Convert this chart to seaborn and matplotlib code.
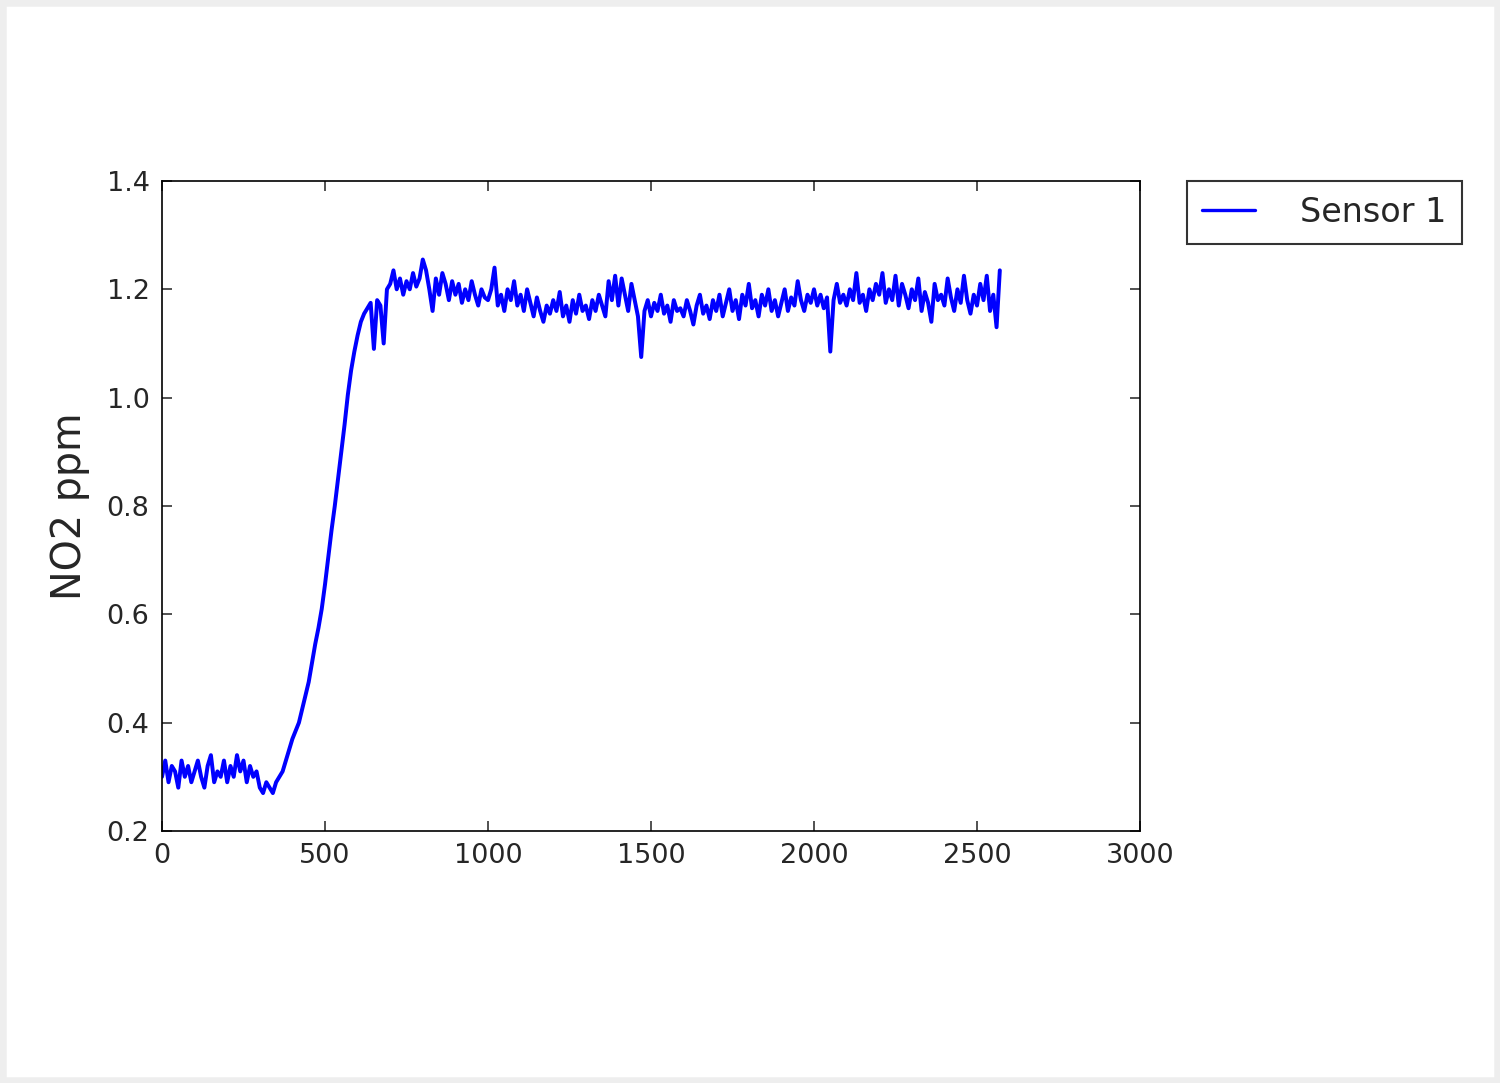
import pandas as pd
import numpy as np
import matplotlib.pyplot as plt
from matplotlib.patches import Rectangle
import seaborn as sns

# sample index every 10 readings, NO2
sample_step = 10
no2_ppm = [
    0.30, 0.33, 0.29, 0.32, 0.31, 0.28, 0.33, 0.30, 0.32, 0.29,
    0.31, 0.33, 0.30, 0.28, 0.32, 0.34, 0.29, 0.31, 0.30, 0.33,
    0.29, 0.32, 0.30, 0.34, 0.31, 0.33, 0.29, 0.32, 0.30, 0.31,
    0.28, 0.27, 0.29, 0.28, 0.27, 0.29, 0.30, 0.31, 0.33, 0.35,
    0.37, 0.385, 0.40, 0.425, 0.45, 0.475, 0.51, 0.545, 0.575, 0.61,
    0.655, 0.705, 0.755, 0.80, 0.85, 0.90, 0.95, 1.005, 1.05, 1.085,
    1.115, 1.14, 1.155, 1.165, 1.175, 1.09, 1.18, 1.17, 1.10, 1.20,
    1.21, 1.235, 1.20, 1.22, 1.19, 1.215, 1.20, 1.23, 1.205, 1.22,
    1.255, 1.235, 1.20, 1.16, 1.22, 1.19, 1.23, 1.21, 1.18, 1.215,
    1.19, 1.21, 1.175, 1.20, 1.18, 1.215, 1.19, 1.17, 1.20, 1.185,
    1.18, 1.20, 1.24, 1.17, 1.19, 1.16, 1.20, 1.18, 1.215, 1.17,
    1.19, 1.16, 1.20, 1.175, 1.15, 1.185, 1.16, 1.14, 1.17, 1.155,
    1.18, 1.16, 1.195, 1.15, 1.17, 1.14, 1.18, 1.155, 1.19, 1.16,
    1.17, 1.145, 1.18, 1.16, 1.19, 1.17, 1.15, 1.215, 1.18, 1.225,
    1.17, 1.22, 1.19, 1.16, 1.21, 1.18, 1.15, 1.075, 1.16, 1.18,
    1.15, 1.175, 1.16, 1.19, 1.155, 1.17, 1.14, 1.18, 1.16, 1.165,
    1.15, 1.18, 1.16, 1.135, 1.17, 1.19, 1.155, 1.17, 1.145, 1.18,
    1.16, 1.19, 1.15, 1.175, 1.20, 1.16, 1.18, 1.145, 1.19, 1.17,
    1.21, 1.165, 1.18, 1.15, 1.19, 1.17, 1.20, 1.16, 1.18, 1.15,
    1.175, 1.20, 1.16, 1.185, 1.17, 1.215, 1.18, 1.16, 1.19, 1.175,
    1.20, 1.17, 1.19, 1.165, 1.185, 1.085, 1.18, 1.21, 1.175, 1.19,
    1.17, 1.20, 1.18, 1.23, 1.175, 1.19, 1.16, 1.20, 1.18, 1.21,
    1.19, 1.23, 1.175, 1.20, 1.18, 1.225, 1.17, 1.21, 1.19, 1.165,
    1.20, 1.18, 1.22, 1.16, 1.195, 1.175, 1.14, 1.21, 1.18, 1.19,
    1.17, 1.22, 1.185, 1.16, 1.20, 1.175, 1.225, 1.18, 1.155, 1.19,
    1.17, 1.21, 1.18, 1.225, 1.16, 1.19, 1.13, 1.235,
]
series_label = 'Sensor 1'
y_label = 'NO2 ppm'

df = pd.DataFrame({'sample': np.arange(len(no2_ppm)) * sample_step,
                   'no2': no2_ppm})

sns.set_style('white', rc={'xtick.direction': 'in', 'ytick.direction': 'in',
                           'xtick.top': True, 'ytick.right': True,
                           'xtick.bottom': True, 'ytick.left': True,
                           'axes.edgecolor': 'black', 'axes.linewidth': 1.0})
plt.rcParams['font.family'] = ['DejaVu Sans']

fig = plt.figure(figsize=(10, 7.22), dpi=150)
ax = fig.add_axes([0.108, 0.2327, 0.652, 0.6002])

sns.lineplot(data=df, x='sample', y='no2', color='#0000ff', linewidth=1.9,
             label=series_label, ax=ax)

ax.set_xlim(0, 3000)
ax.set_ylim(0.2, 1.4)
ax.set_xticks([0, 500, 1000, 1500, 2000, 2500, 3000])
ax.set_yticks([0.2, 0.4, 0.6, 0.8, 1.0, 1.2, 1.4])
ax.set_yticklabels(['0.2', '0.4', '0.6', '0.8', '1.0', '1.2', '1.4'])
ax.tick_params(axis='both', labelsize=13, length=5, width=0.8, color='#333333',
               pad=6)
ax.set_xlabel('')
ax.set_ylabel(y_label, fontsize=19, labelpad=8)

leg = ax.legend(loc='upper left', bbox_to_anchor=(1.048, 1.0), borderaxespad=0,
                fontsize=16, frameon=True, fancybox=False, handlelength=1.6,
                handletextpad=1.35, borderpad=0.45)
leg.get_frame().set_edgecolor('black')
leg.get_frame().set_linewidth(1.0)
for line in leg.get_lines():
    line.set_linewidth(1.6)

# light grey frame around the whole picture
fig.patches.append(Rectangle((0, 0), 1, 1, transform=fig.transFigure,
                             fill=False, edgecolor='#eeeeee', linewidth=6))

fig.savefig('out.png', dpi=150)
